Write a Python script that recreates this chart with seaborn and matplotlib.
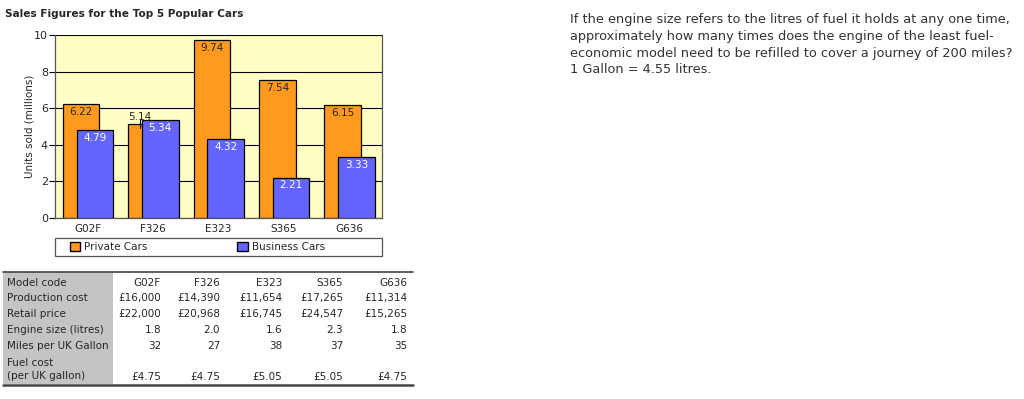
import numpy as np
import pandas as pd
import matplotlib
matplotlib.use("Agg")
import matplotlib.pyplot as plt
import seaborn as sns
from matplotlib.patches import Rectangle, Patch
from matplotlib.lines import Line2D

# chart data
models = ["G02F", "F326", "E323", "S365", "G636"]
private_cars = [6.22, 5.14, 9.74, 7.54, 6.15]
business_cars = [4.79, 5.34, 4.32, 2.21, 3.33]

# table data
row_labels = ["Model code", "Production cost", "Retail price", "Engine size (litres)",
              "Miles per UK Gallon", "Fuel cost\n(per UK gallon)"]
production_cost = ["£16,000", "£14,390", "£11,654", "£17,265", "£11,314"]
retail_price = ["£22,000", "£20,968", "£16,745", "£24,547", "£15,265"]
engine_size = ["1.8", "2.0", "1.6", "2.3", "1.8"]
miles_per_gallon = ["32", "27", "38", "37", "35"]
fuel_cost = ["£4.75", "£4.75", "£5.05", "£5.05", "£4.75"]

question = ("If the engine size refers to the litres of fuel it holds at any one time,\n"
            "approximately how many times does the engine of the least fuel-\n"
            "economic model need to be refilled to cover a journey of 200 miles?\n"
            "1 Gallon = 4.55 litres.")

ORANGE = "#FF9A1E"
BLUE = "#6464FF"

sns.set_style("white")
plt.rcParams['font.family'] = ['DejaVu Sans']

W, H = 1024, 399
fig = plt.figure(figsize=(W / 100, H / 100), dpi=100)


def fx(px):
    return px / W


def fy(py):
    return 1 - py / H


ax = fig.add_axes([fx(55), fy(218), fx(382) - fx(55), fy(35) - fy(218)])
ax.set_facecolor("#FFFFC4")

idx = np.arange(len(models))
df = pd.DataFrame({"model": models, "private": private_cars, "business": business_cars,
                   "pos": idx})

sns.barplot(x=df["pos"] - 0.1, y=df["private"], native_scale=True, width=0.56,
            color=ORANGE, saturation=1, edgecolor="black", linewidth=0.9, ax=ax, zorder=2)
sns.barplot(x=df["pos"] + 0.11, y=df["business"], native_scale=True, width=0.56,
            color=BLUE, saturation=1, edgecolor="black", linewidth=0.9, ax=ax, zorder=3)

ax.set_xlim(-0.5, 4.5)
ax.set_ylim(0, 10)
ax.set_yticks(range(0, 11, 2))
ax.yaxis.grid(True, color="black", linewidth=0.8, zorder=0)
ax.set_axisbelow(True)
ax.set_xticks(idx)
ax.set_xticklabels(models, fontsize=7.5)
ax.set_xticks(np.arange(0.5, 4.5, 1), minor=True)
ax.tick_params(axis="x", which="major", length=0, pad=4)
ax.tick_params(axis="x", which="minor", length=4, direction="out", color="black")
ax.tick_params(axis="y", length=4, direction="out", labelsize=8, color="black", pad=1, left=True)
ax.set_xlabel("")
ax.set_ylabel("Units sold (millions)", fontsize=7.5, labelpad=0)
for s in ax.spines.values():
    s.set_color("#555555")
    s.set_linewidth(0.9)
ax.spines["top"].set_visible(False)

# value labels
for i, (p, b) in enumerate(zip(private_cars, business_cars)):
    if b > p - 0.4:
        ax.text(i - 0.2, p + 0.12, f"{p:.2f}", ha="center", va="bottom", fontsize=7.5, zorder=5)
        ax.plot([i - 0.2, i - 0.2], [p - 0.2, p + 0.2], color="black", lw=0.8, zorder=5)
    else:
        ax.text(i - 0.1, p - 0.15, f"{p:.2f}", ha="center", va="top", fontsize=7.5, zorder=5)
    ax.text(i + 0.11, b - 0.15, f"{b:.2f}", ha="center", va="top", fontsize=7.5,
            color="white", zorder=5)

# legend frame plus legend entries
ax.add_patch(Rectangle((0, -0.208), 1, 0.099, transform=ax.transAxes, facecolor="white",
                       edgecolor="#555555", lw=0.9, clip_on=False))
handles = [Patch(facecolor=ORANGE, edgecolor="black", label="Private Cars"),
           Patch(facecolor=BLUE, edgecolor="black", label="Business Cars")]
leg = ax.legend(handles=handles, loc="center left", bbox_to_anchor=(0.045, -0.158),
                ncol=2, fontsize=7.5, frameon=False, handlelength=1.0, handleheight=1.0,
                handletextpad=0.4, columnspacing=8.6, borderpad=0, borderaxespad=0)

fig.text(fx(5), fy(14), "Sales Figures for the Top 5 Popular Cars", fontsize=7.6,
         fontweight="bold", va="center", ha="left")

# table
fig.patches.append(Rectangle((fx(3), fy(384)), fx(113) - fx(3), fy(272) - fy(384),
                             transform=fig.transFigure, facecolor="#C4C4C4",
                             edgecolor="none", zorder=0))
fig.add_artist(Line2D([fx(3), fx(413)], [fy(272), fy(272)], color="#444444", lw=1.2))
fig.add_artist(Line2D([fx(3), fx(413)], [fy(384.5), fy(384.5)], color="#444444", lw=1.8))

row_y = [283, 298, 314, 330, 346, 369.5]
for lab, y in zip(row_labels, row_y):
    fig.text(fx(7), fy(y), lab, fontsize=7.5, va="center", ha="left", linespacing=1.35)

col_right = [161, 220, 282, 343, 407]
rows = [models, production_cost, retail_price, engine_size, miles_per_gallon]
for r, y in zip(rows, row_y[:5]):
    for v, x in zip(r, col_right):
        fig.text(fx(x), fy(y), v, fontsize=7.5, va="center", ha="right")
for v, x in zip(fuel_cost, col_right):
    fig.text(fx(x), fy(377), v, fontsize=7.5, va="center", ha="right")

fig.text(fx(570), fy(13.5), question, fontsize=9.3, va="top", ha="left",
         color="#333333", linespacing=1.35)

fig.savefig("out.png", dpi=100)
